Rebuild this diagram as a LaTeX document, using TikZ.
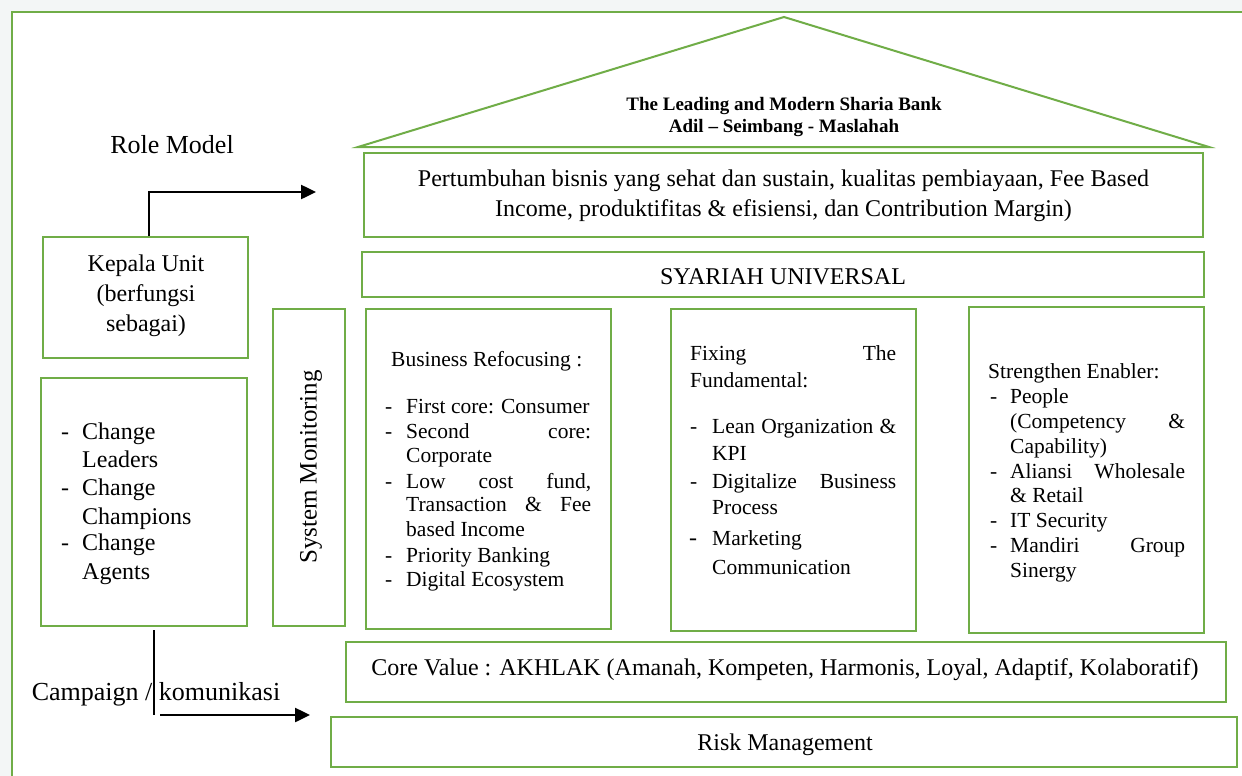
\documentclass[tikz,border=0pt]{standalone}
\usepackage{fontspec}
\setmainfont{Liberation Serif}
\usetikzlibrary{arrows.meta,fit}
\definecolor{frgreen}{HTML}{70AD47}
\definecolor{bggray}{HTML}{F3F6F6}
\begin{document}
\begin{tikzpicture}[x=1pt,y=-1pt,
  box/.style={draw=frgreen,line width=2pt,inner sep=0pt},
  txt/.style={inner sep=0pt,yshift=-2.5pt,font=\fontsize{24}{30}\selectfont},
  big/.style={inner sep=0pt,yshift=-1.5pt,font=\fontsize{26}{30}\selectfont},
  lst/.style={inner sep=0pt,anchor=mid west,yshift=-4.5pt,font=\fontsize{21.5}{25}\selectfont},
  chg/.style={inner sep=0pt,anchor=mid west,yshift=-5pt,font=\fontsize{24}{28}\selectfont},
  arr/.style={line width=2.5pt,-{Triangle[length=15pt,width=14pt]}}]
\useasboundingbox (0,0) rectangle (1242,776);
\fill[bggray] (0,0) rectangle (1242,776);
\fill[white] (12,12) rectangle (1260,800);
\draw[frgreen,line width=2pt] (1260,12) -- (12,12) -- (12,800);

% roof
\draw[frgreen,line width=2pt,line join=miter] (358,147) -- (784,17) -- (1209,147) -- cycle;
\node[inner sep=0pt,align=center,font=\bfseries\fontsize{19}{22}\selectfont] (title) at (784,117)
  {The Leading and Modern Sharia Bank\\Adil -- Seimbang - Maslahah};

% boxes
\node[box,fit={(364,153)(1203,237)}] (upper) {};
\node[box,fit={(362,252)(1204,297)}] (syariah) {};
\node[box,fit={(273,309)(345,626)}] (sysmon) {};
\node[box,fit={(366,309)(611,629)}] (business) {};
\node[box,fit={(671,309)(916,631)}] (fixing) {};
\node[box,fit={(969,307)(1204,633)}] (strengthen) {};
\node[box,fit={(346,642)(1226,702)}] (core) {};
\node[box,fit={(331,717)(1237,767)}] (risk) {};
\node[box,fit={(43,237)(248,358)}] (kepala) {};
\node[box,fit={(41,378)(247,626)}] (change) {};

% texts in boxes
\node[txt,align=center] (uppert) at (783.5,193)
  {Pertumbuhan bisnis yang sehat dan sustain, kualitas pembiayaan, Fee Based\\Income, produktifitas \& efisiensi, dan Contribution Margin)};
\node[txt] (syariaht) at (783,274) {SYARIAH UNIVERSAL};
\node[inner sep=0pt,rotate=90,font=\fontsize{25}{30}\selectfont] (sysmont) at (311,467) {System Monitoring};
\node[txt] (coret) at (785,667) {Core Value : AKHLAK (Amanah, Kompeten, Harmonis, Loyal, Adaptif, Kolaboratif)};
\node[txt] (riskt) at (785,742) {Risk Management};

% Kepala
\node[txt,align=center] (kepalat) at (146,293) {Kepala Unit\\(berfungsi\\sebagai)};

% Change list
\node[chg] (c1d) at (61,432) {-};
\node[chg] (c1) at (82,432) {Change};
\node[chg] (c1b) at (82,460) {Leaders};
\node[chg] (c2d) at (61,488) {-};
\node[chg] (c2) at (82,488) {Change};
\node[chg] (c2b) at (82,517) {Champions};
\node[chg] (c3d) at (61,543) {-};
\node[chg] (c3) at (82,543) {Change};
\node[chg] (c3b) at (82,572) {Agents};

% Business list
\node[lst] (bh) at (391,360) {Business Refocusing :};
\node[lst] (b1d) at (385,407) {-};
\node[lst] (b1) at (406,407) {First core: Consumer};
\node[lst] (b2d) at (385,432) {-};
\node[lst] (b2) at (406,432) {\makebox[185pt][s]{Second core:}};
\node[lst] (b2b) at (406,456) {Corporate};
\node[lst] (b3d) at (385,482) {-};
\node[lst] (b3) at (406,482) {\makebox[185pt][s]{Low cost fund,}};
\node[lst] (b3b) at (406,505) {\makebox[185pt][s]{Transaction \& Fee}};
\node[lst] (b3c) at (406,530) {based Income};
\node[lst] (b4d) at (385,556) {-};
\node[lst] (b4) at (406,556) {Priority Banking};
\node[lst] (b5d) at (385,580) {-};
\node[lst] (b5) at (406,580) {Digital Ecosystem};

% Fixing list
\node[lst] (fh) at (690,354) {\makebox[206pt][s]{Fixing The}};
\node[lst] (fh2) at (690,381) {Fundamental:};
\node[lst] (f1d) at (690,427) {-};
\node[lst] (f1) at (712,427) {\makebox[184pt][s]{Lean Organization \&}};
\node[lst] (f1b) at (712,454) {KPI};
\node[lst] (f2d) at (690,482) {-};
\node[lst] (f2) at (712,482) {\makebox[184pt][s]{Digitalize Business}};
\node[lst] (f2b) at (712,508) {Process};
\node[lst,font=\fontsize{24}{25}\selectfont] (f3d) at (689,539) {-};
\node[lst] (f3) at (712,539) {Marketing};
\node[lst] (f3b) at (712,568) {Communication};

% Strengthen list
\node[lst] (sh) at (988,372) {Strengthen Enabler:};
\node[lst] (s1d) at (990,397) {-};
\node[lst] (s1) at (1010,397) {People};
\node[lst] (s1b) at (1010,422) {\makebox[175pt][s]{(Competency \&}};
\node[lst] (s1c) at (1010,447) {Capability)};
\node[lst] (s2d) at (990,472) {-};
\node[lst] (s2) at (1010,472) {\makebox[175pt][s]{Aliansi Wholesale}};
\node[lst] (s2b) at (1010,496) {\& Retail};
\node[lst] (s3d) at (990,521) {-};
\node[lst] (s3) at (1010,521) {IT Security};
\node[lst] (s4d) at (990,546) {-};
\node[lst] (s4) at (1010,546) {\makebox[175pt][s]{Mandiri Group}};
\node[lst] (s4b) at (1010,571) {Sinergy};

% side labels
\node[big] (role) at (172,143) {Role Model};
\node[big] (camp) at (156,693) {Campaign / komunikasi};

% connectors
\coordinate (rmCorner) at (149,192);
\coordinate (rmEnd) at (316,192);
\draw[line width=1.5pt] (kepala.north -| rmCorner) -- (rmCorner);
\draw[arr] ([xshift=-0.75pt]rmCorner) -- (rmEnd);

\coordinate (campCorner) at (154,715);
\coordinate (campStart) at (160,715);
\coordinate (campEnd) at (310,715);
\draw[line width=1.2pt] ([yshift=-3pt]change.south -| campCorner) -- (campCorner);
\draw[arr] (campStart) -- (campEnd);
\end{tikzpicture}
\end{document}
